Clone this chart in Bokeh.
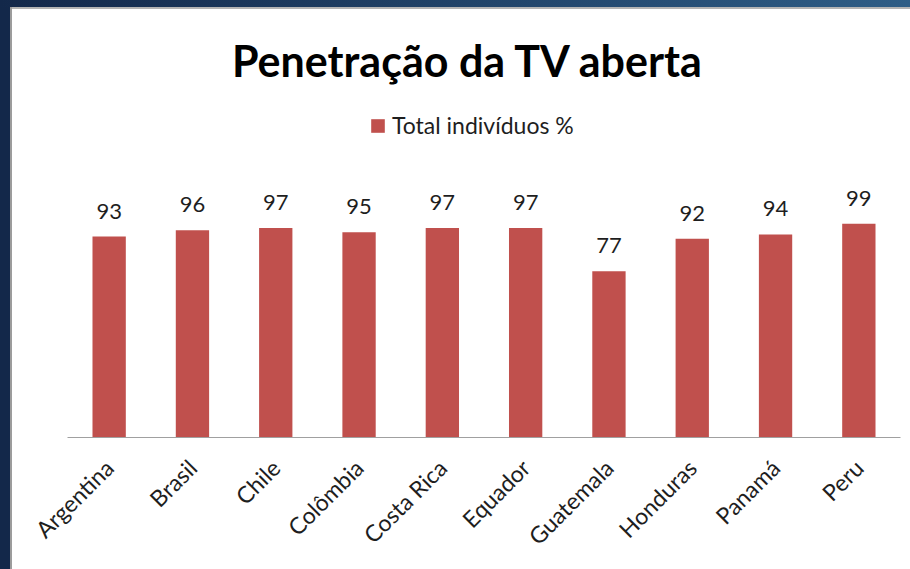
import math
from bokeh.plotting import figure
from bokeh.models import (ColumnDataSource, FactorRange, Range1d, LabelSet,
                          Legend, LegendItem, GlobalInlineStyleSheet)
from bokeh.core.properties import value
from bokeh.embed import file_html
from bokeh.resources import INLINE

# ---- data ----
countries = ["Argentina", "Brasil", "Chile", "Colômbia", "Costa Rica",
             "Equador", "Guatemala", "Honduras", "Panamá", "Peru"]
penetration = [93, 96, 97, 95, 97, 97, 77, 92, 94, 99]
series_name = "Total indivíduos %"
chart_title = "Penetração da TV aberta"

BAR = "#C0504D"
TXT = "#1e1e1e"
FONT = "Lato"

src = ColumnDataSource(dict(x=countries, y=penetration,
                            lbl=[str(v) for v in penetration]))

p = figure(width=898, height=560, x_range=FactorRange(*countries, range_padding=0),
           y_range=Range1d(0, 198.15), output_backend="svg", toolbar_location=None,
           min_border_left=55, min_border_right=10, min_border_top=0,
           min_border_bottom=132)
p.stylesheets = [GlobalInlineStyleSheet(css=(
    "html,body{overflow:hidden;}"
    "body{margin:9px 0 0 12px;"
    "background:"
    "linear-gradient(#9c9c9c,#9c9c9c) 10px 7px/2px 100% no-repeat,"
    "linear-gradient(#b4b4b4,#b4b4b4) 10px 7px/100% 2px no-repeat,"
    "linear-gradient(to right,#13284a,#2e5d86) 0 0/100% 7px no-repeat,"
    "#13284a;}"
))]
p.styles = {"background-color": "white"}

p.outline_line_color = None
p.background_fill_color = "white"
p.border_fill_color = "white"
p.xgrid.visible = False
p.ygrid.visible = False
p.yaxis.visible = False

bars = p.vbar(x="x", top="y", width=0.4, source=src, fill_color=BAR, line_color=None)

labels = LabelSet(x="x", y="y", text="lbl", source=src, y_offset=18,
                  text_align="center", text_baseline="alphabetic",
                  text_font=value(FONT), text_font_size="22px", text_color=TXT)
p.add_layout(labels)

# title
tsrc = ColumnDataSource(dict(x=["Costa Rica"], y=[174.6], t=[chart_title]))
p.text(x="x", y="y", text="t", source=tsrc, x_offset=26, text_align="center",
       text_baseline="alphabetic", text_font=value(FONT), text_font_style="bold",
       text_font_size="43px", text_color="black")

legend = Legend(items=[LegendItem(label=series_name, renderers=[bars])],
                location=(302, 298), orientation="horizontal",
                glyph_width=17, glyph_height=17, label_standoff=6,
                padding=0, margin=0, border_line_color=None,
                background_fill_alpha=0, label_text_font=FONT,
                label_text_font_size="23px", label_text_color=TXT)
p.add_layout(legend, "center")

ax = p.xaxis[0]
ax.axis_line_color = "#a0a0a0"
ax.axis_line_width = 1
ax.major_tick_line_color = None
ax.minor_tick_line_color = None
ax.major_label_orientation = math.pi / 4
ax.major_label_standoff = 20
ax.major_label_text_font = FONT
ax.major_label_text_font_size = "23px"
ax.major_label_text_color = TXT

open("out.html", "w").write(file_html(p, INLINE))
